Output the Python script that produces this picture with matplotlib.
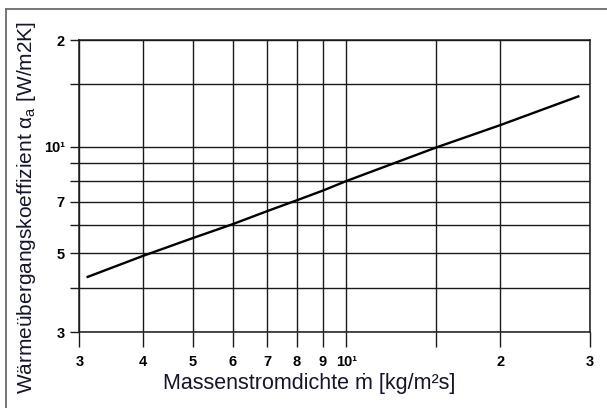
import matplotlib
matplotlib.use("Agg")
import matplotlib.pyplot as plt
from matplotlib.ticker import FixedLocator, FixedFormatter, NullLocator
from matplotlib.lines import Line2D

# data
mass_flux = [3.1, 4, 5, 6, 7, 8, 9, 10, 15, 20, 28.6]
alpha_a = [4.28, 4.92, 5.52, 6.05, 6.58, 7.06, 7.52, 8.0, 9.95, 11.5, 13.9]

x_ticks = [3, 4, 5, 6, 7, 8, 9, 10, 15, 20, 30]
x_labels = ["3", "4", "5", "6", "7", "8", "9", "10\u00b9", "", "2", "3"]
y_ticks = [3, 4, 5, 6, 7, 8, 9, 10, 15, 20]
y_labels = ["3", "", "5", "", "7", "", "", "10\u00b9", "", "2"]

plt.rcParams['font.family'] = ['Liberation Sans', 'DejaVu Sans']

fig = plt.figure(figsize=(6.07, 4.08), dpi=100)
ax = fig.add_axes([79.3/607, 1-332/408, (590-79.3)/607, (332-40)/408])

ax.plot(mass_flux, alpha_a, color="black", lw=1.7, solid_capstyle="butt")

ax.set_xscale("log")
ax.set_yscale("log")
ax.set_xlim(3, 30)
ax.set_ylim(3, 20)

ax.xaxis.set_major_locator(FixedLocator(x_ticks))
ax.xaxis.set_major_formatter(FixedFormatter(x_labels))
ax.xaxis.set_minor_locator(NullLocator())
ax.yaxis.set_major_locator(FixedLocator(y_ticks))
ax.yaxis.set_major_formatter(FixedFormatter(y_labels))
ax.yaxis.set_minor_locator(NullLocator())

ax.grid(True, which="major", color="#1a1a1a", lw=1.0)
for s in ax.spines.values():
    s.set_color("#1a1a1a")
    s.set_linewidth(1.1)

ax.tick_params(axis="x", length=10.8, width=1.0, pad=6, direction="out",
               color="#1a1a1a", labelsize=10.5)
ax.tick_params(axis="y", length=6.5, width=1.0, pad=4, direction="out",
               color="#1a1a1a", labelsize=10.5)
for lab in ax.get_xticklabels() + ax.get_yticklabels():
    lab.set_fontweight("bold")

txt_col = "#15152e"
fig.text(309/607, 1-383/408, "Massenstromdichte \u1e41 [kg/m\u00b2s]",
         ha="center", va="center", fontsize=15.5, color=txt_col)
fig.text(27/607, 1-208/408,
         "W\u00e4rme\u00fcbergangskoeffizient \u03b1$_\\mathregular{a}$ [W/m2K]",
         ha="center", va="center", rotation=90, fontsize=15, color=txt_col)

# scan frame (top and left edges)
fig.add_artist(Line2D([6/607, 1], [1-9/408, 1-9/408], color="#6a6a6a", lw=1.3,
                      transform=fig.transFigure))
fig.add_artist(Line2D([6/607, 6/607], [0, 1-9/408], color="#6a6a6a", lw=1.3,
                      transform=fig.transFigure))

fig.savefig("out.png", dpi=100)
